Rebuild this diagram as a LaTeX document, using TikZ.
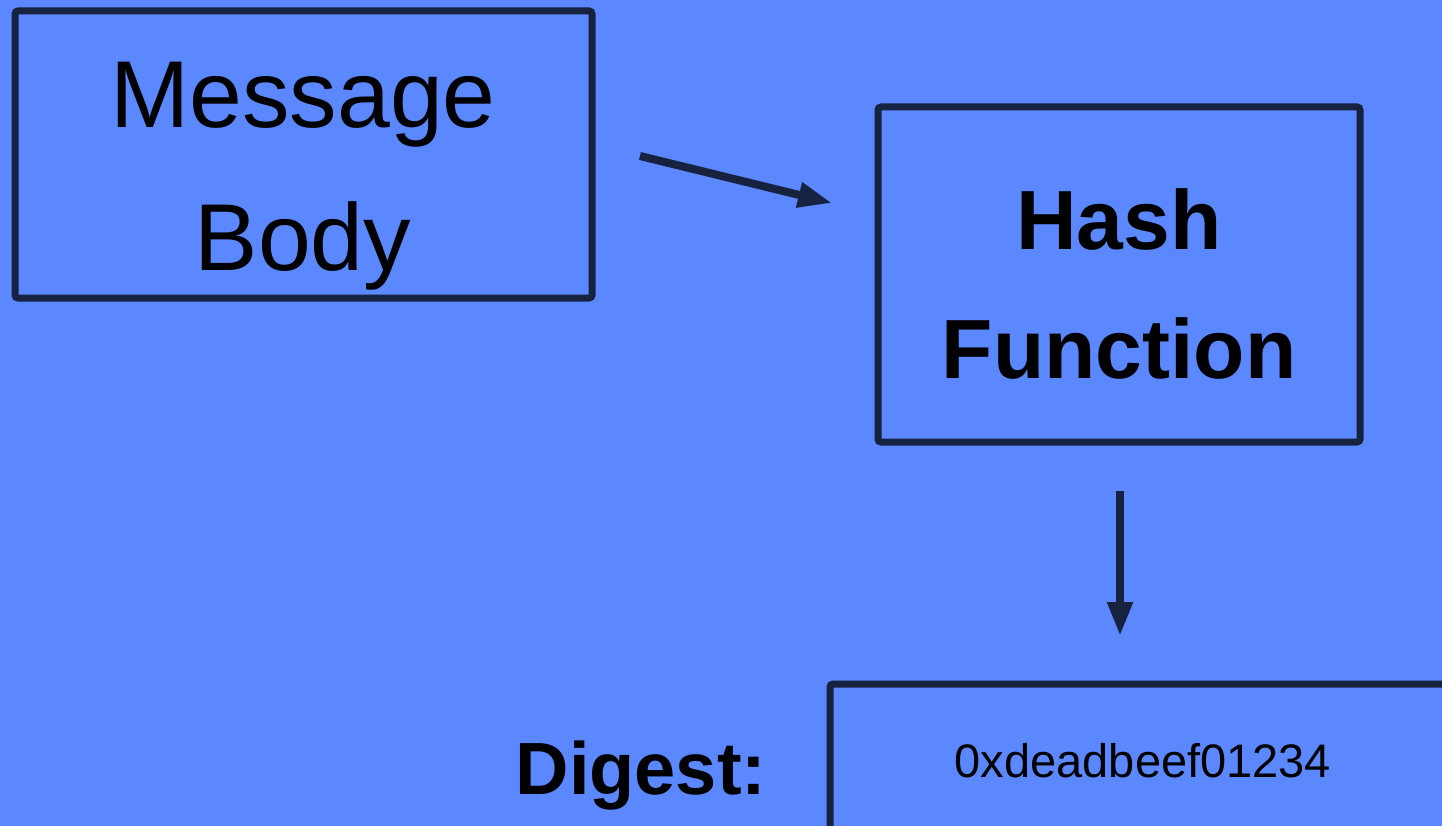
\documentclass[tikz,border=0pt]{standalone}
\usepackage{fontspec}
\setmainfont{Liberation Sans}
\usetikzlibrary{arrows.meta}
\definecolor{bgblue}{HTML}{5B87FF}
\definecolor{ink}{HTML}{172240}
\tikzset{
  box/.style={draw=ink, line width=7pt, rounded corners=3pt, fill=none},
  flow/.style={draw=ink, line width=8pt, -{Triangle[length=34pt,width=24pt]}},
  label/.style={anchor=base, inner sep=0pt, text=black}
}
\begin{document}
\begin{tikzpicture}[x=1pt, y=-1pt]
  % canvas
  \fill[bgblue] (0,0) rectangle (1442,826);
  \useasboundingbox (0,0) rectangle (1442,826);
  \clip (0,0) rectangle (1442,826);

  % boxes
  \draw[box] (15,11) rectangle (592,298);
  \draw[box] (878,107) rectangle (1360,442);
  \draw[box] (830,684) rectangle (1480,870);

  % texts
  \node[label, font=\fontsize{95}{95}\selectfont] (msg1) at (303,128) {Message};
  \node[label, font=\fontsize{95}{95}\selectfont] (msg2) at (303,270) {Body};
  \node[label, font=\bfseries\fontsize{84}{84}\selectfont] (hash1) at (1119,250) {Hash};
  \node[label, font=\bfseries\fontsize{84}{84}\selectfont] (hash2) at (1119,378) {Function};
  \node[label, font=\bfseries\fontsize{74}{74}\selectfont] (dlabel) at (641,794) {Digest:};
  \node[label, font=\fontsize{47}{47}\selectfont] (dvalue) at (1143,777) {0xdeadbeef01234};

  % connectors
  \coordinate (m2hA) at (640,156);
  \coordinate (m2hB) at (832,203);
  \coordinate (h2dA) at (1120,491);
  \coordinate (h2dB) at (1120,636);
  \draw[flow] (m2hA) -- (m2hB);
  \draw[flow] (h2dA) -- (h2dB);
\end{tikzpicture}
\end{document}
